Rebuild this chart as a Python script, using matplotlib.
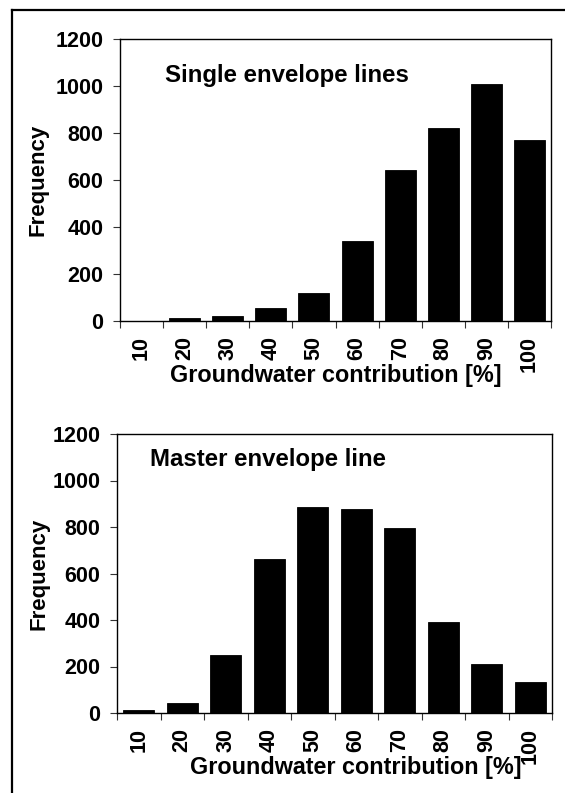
import matplotlib
matplotlib.use("Agg")
import matplotlib.pyplot as plt
from matplotlib.lines import Line2D
import numpy as np

plt.rcParams['font.family'] = ['Liberation Sans', 'DejaVu Sans']
plt.rcParams['font.weight'] = 'bold'

# histogram classes (upper bound of groundwater contribution, %)
classes = ["10", "20", "30", "40", "50", "60", "70", "80", "90", "100"]
single_freq = [1, 11, 20, 57, 118, 342, 641, 823, 1009, 769]
master_freq = [13, 43, 248, 664, 885, 877, 794, 391, 211, 135]

yticks = [0, 200, 400, 600, 800, 1000, 1200]

W, H = 565, 793
fig = plt.figure(figsize=(W / 100, H / 100), dpi=100)

def fx(px):
    return px / W

def fy(py):
    return 1 - py / H

# outer frame (only left and top edges are inside the picture)
fig.add_artist(Line2D([fx(12), fx(12)], [fy(10), 0], color='black', lw=1.6))
fig.add_artist(Line2D([fx(12), 1], [fy(10), fy(10)], color='black', lw=1.6))

panels = [
    (single_freq, "Single envelope lines", (120, 39, 551, 321), (0.104, 0.848), 0.50, -0.165),
    (master_freq, "Master envelope line", (117, 434, 552, 713), (0.076, 0.886), 0.55, -0.155),
]

x = np.arange(len(classes))
for freq, title, (l, t, r, b), (tx, ty), lx, ly in panels:
    ax = fig.add_axes([fx(l), fy(b), fx(r) - fx(l), fy(t) - fy(b)])
    ax.bar(x, freq, width=0.72, color='black', edgecolor='black', linewidth=0.6)
    ax.set_xlim(-0.5, len(classes) - 0.5)
    ax.set_ylim(0, 1200)
    ax.set_yticks(yticks)
    ax.set_yticklabels([str(v) for v in yticks], fontsize=15.5, fontweight='bold')
    # ticks sit on class boundaries, labels on class centres
    ax.set_xticks(np.arange(len(classes) + 1) - 0.5)
    ax.set_xticklabels([])
    ax.set_xticks(x, minor=True)
    ax.set_xticklabels(classes, minor=True, rotation=90, fontsize=15.5,
                       fontweight='bold', va='top', ha='center')
    ax.tick_params(axis='x', which='minor', length=0, pad=11)
    ax.tick_params(axis='x', which='major', direction='out', length=5, width=0.8, color='#333333')
    ax.tick_params(axis='y', direction='out', length=5, width=0.8, pad=7, color='#333333')
    for s in ax.spines.values():
        s.set_linewidth(1.0)
    ax.set_ylabel("Frequency", fontsize=16, fontweight='bold')
    ax.yaxis.set_label_coords(ly, 0.5)
    ax.set_xlabel("Groundwater contribution [%]", fontsize=16.8, fontweight='bold')
    ax.xaxis.set_label_coords(lx, -0.195)
    ax.xaxis.label.set_va('center')
    ax.text(tx, ty, title, transform=ax.transAxes, fontsize=17.3,
            fontweight='bold', ha='left', va='baseline')

fig.savefig("out.png", dpi=100)
